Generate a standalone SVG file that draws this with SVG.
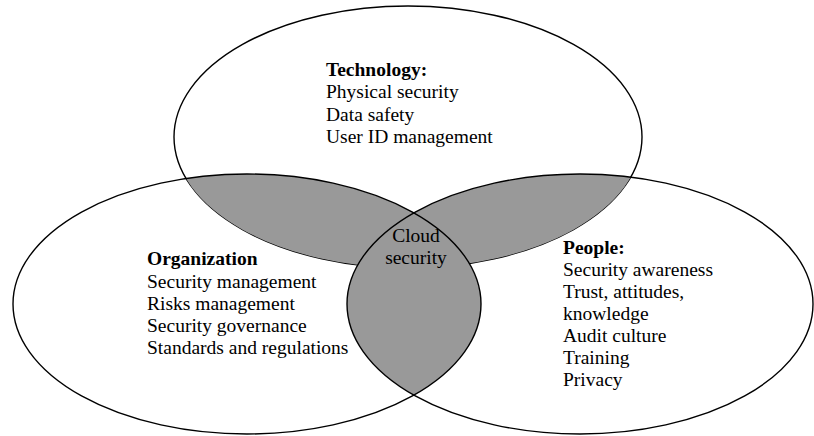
<svg xmlns="http://www.w3.org/2000/svg" width="814" height="436" viewBox="0 0 814 436">
<style>
.outline{fill:none;stroke:#000;stroke-width:1.4}
.lens{fill:#999999;stroke:none}
text{font-family:"Liberation Serif","Times New Roman",serif;font-size:19.5px;fill:#000}
.hd{font-weight:bold}
</style>
<defs>
<clipPath id="clipT"><ellipse cx="408" cy="137" rx="234" ry="131"/></clipPath>
<clipPath id="clipL"><ellipse cx="247" cy="304" rx="234" ry="130"/></clipPath>
</defs>
<rect width="814" height="436" fill="#fff"/>
<g id="technology-circle">
<ellipse class="outline" cx="408" cy="137" rx="234" ry="131"/>
</g>
<g id="overlaps">
<ellipse class="lens" cx="247" cy="304" rx="234" ry="130" clip-path="url(#clipT)"/>
<ellipse class="lens" cx="580" cy="304" rx="233" ry="130" clip-path="url(#clipT)"/>
<ellipse class="lens" cx="580" cy="304" rx="233" ry="130" clip-path="url(#clipL)"/>
</g>
<g id="organization-circle">
<ellipse class="outline" cx="247" cy="304" rx="234" ry="130"/>
</g>
<g id="people-circle">
<ellipse class="outline" cx="580" cy="304" rx="233" ry="130"/>
</g>
<g id="connectors"/>
<g id="technology">
<text class="hd" x="326" y="76">Technology:</text>
<text x="326" y="98">Physical security</text>
<text x="326" y="120.5">Data safety</text>
<text x="326" y="143">User ID management</text>
</g>
<g id="organization">
<text class="hd" x="147" y="265">Organization</text>
<text x="147" y="287.5">Security management</text>
<text x="147" y="309.5">Risks management</text>
<text x="147" y="331.5">Security governance</text>
<text x="147" y="353.5">Standards and regulations</text>
</g>
<g id="people">
<text class="hd" x="563" y="254">People:</text>
<text x="563" y="276">Security awareness</text>
<text x="563" y="298">Trust, attitudes,</text>
<text x="563" y="320">knowledge</text>
<text x="563" y="342">Audit culture</text>
<text x="563" y="364">Training</text>
<text x="563" y="386">Privacy</text>
</g>
<g id="cloud-security">
<text x="416" y="242" text-anchor="middle">Cloud</text>
<text x="416" y="263.5" text-anchor="middle">security</text>
</g>
</svg>
